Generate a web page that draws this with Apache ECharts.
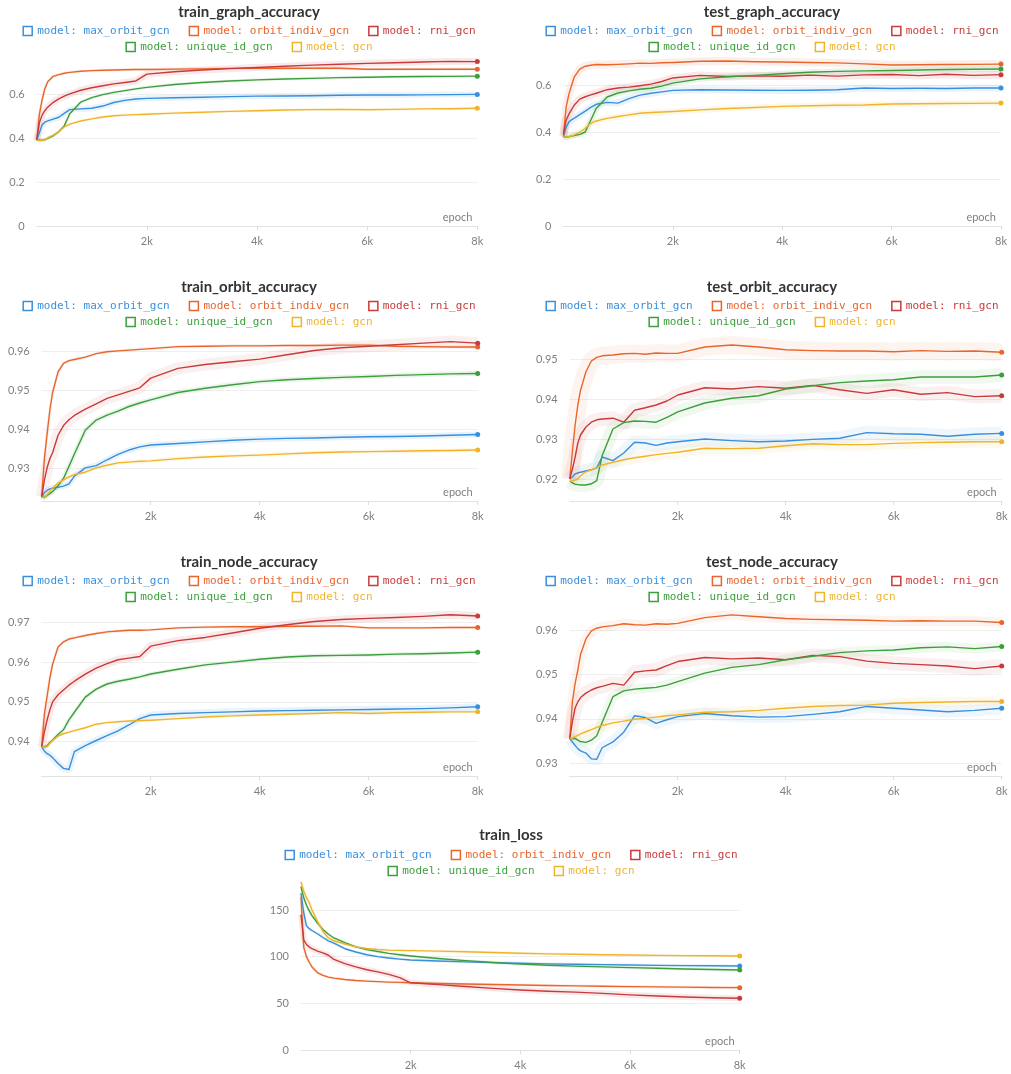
<!DOCTYPE html>
<html><head><meta charset="utf-8">
<script src="https://cdn.jsdelivr.net/npm/echarts@6/dist/echarts.min.js"></script>
<style>
html,body{margin:0;padding:0;background:#fff;overflow:hidden;width:1011px;height:1074px;position:relative}
.p{position:absolute}
</style></head><body>
<div id="c0" class="p" style="left:0;top:0;width:498px;height:275px"></div>
<div id="c1" class="p" style="left:533px;top:0;width:478px;height:275px"></div>
<div id="c2" class="p" style="left:0;top:275px;width:498px;height:275px"></div>
<div id="c3" class="p" style="left:533px;top:275px;width:478px;height:275px"></div>
<div id="c4" class="p" style="left:0;top:550px;width:498px;height:275px"></div>
<div id="c5" class="p" style="left:533px;top:550px;width:478px;height:275px"></div>
<div id="c6" class="p" style="left:262px;top:825px;width:498px;height:249px"></div>
<script>
// ---------------- DATA ----------------
const epochs = [0,50,100,150,200,300,400,500,600,800,1000,1200,1400,1600,1800,2000,2500,3000,3500,4000,4500,5000,5500,6000,6500,7000,7500,8000];
const modelNames = ['model: max_orbit_gcn','model: orbit_indiv_gcn','model: rni_gcn','model: unique_id_gcn','model: gcn'];
const xTickLabels = ['', '2k', '4k', '6k', '8k'];

// train_graph_accuracy
const tgaMaxOrbit   = [0.39,0.425,0.46,0.472,0.478,0.486,0.494,0.512,0.529,0.532,0.535,0.545,0.561,0.571,0.577,0.58,0.583,0.585,0.588,0.59,0.591,0.592,0.594,0.595,0.595,0.596,0.597,0.598];
const tgaOrbitIndiv = [0.39,0.51,0.575,0.625,0.655,0.68,0.688,0.694,0.698,0.703,0.706,0.708,0.709,0.71,0.711,0.711,0.713,0.714,0.716,0.717,0.717,0.717,0.717,0.712,0.712,0.712,0.712,0.712];
const tgaRni        = [0.39,0.47,0.505,0.525,0.54,0.562,0.578,0.59,0.6,0.617,0.628,0.637,0.646,0.652,0.659,0.69,0.701,0.709,0.715,0.72,0.726,0.731,0.735,0.739,0.742,0.745,0.748,0.747];
const tgaUniqueId   = [0.39,0.39,0.39,0.392,0.398,0.41,0.428,0.455,0.51,0.563,0.583,0.597,0.607,0.615,0.623,0.63,0.643,0.652,0.659,0.664,0.668,0.671,0.674,0.676,0.678,0.679,0.68,0.681];
const tgaGcn        = [0.39,0.388,0.388,0.392,0.4,0.413,0.428,0.45,0.463,0.477,0.487,0.495,0.501,0.504,0.506,0.508,0.513,0.517,0.521,0.524,0.527,0.529,0.53,0.528,0.53,0.532,0.533,0.535];

// test_graph_accuracy
const tegMaxOrbit   = [0.38,0.42,0.442,0.452,0.459,0.474,0.489,0.505,0.518,0.526,0.523,0.542,0.557,0.565,0.571,0.577,0.58,0.579,0.578,0.577,0.578,0.58,0.587,0.585,0.586,0.585,0.587,0.587];
const tegOrbitIndiv = [0.38,0.505,0.56,0.598,0.635,0.668,0.68,0.684,0.687,0.686,0.688,0.69,0.693,0.692,0.695,0.696,0.701,0.702,0.699,0.698,0.696,0.694,0.69,0.685,0.686,0.687,0.688,0.689];
const tegRni        = [0.39,0.45,0.475,0.495,0.515,0.54,0.55,0.558,0.565,0.58,0.587,0.591,0.597,0.604,0.615,0.63,0.641,0.636,0.639,0.637,0.642,0.638,0.643,0.645,0.64,0.646,0.641,0.644];
const tegUniqueId   = [0.38,0.378,0.38,0.383,0.385,0.39,0.4,0.45,0.5,0.549,0.566,0.575,0.582,0.586,0.595,0.608,0.626,0.635,0.641,0.648,0.654,0.658,0.66,0.662,0.664,0.666,0.667,0.668];
const tegGcn        = [0.38,0.378,0.38,0.384,0.388,0.4,0.415,0.437,0.447,0.458,0.466,0.473,0.48,0.483,0.485,0.487,0.494,0.5,0.504,0.509,0.512,0.514,0.515,0.519,0.52,0.521,0.522,0.523];

// train_orbit_accuracy
const troMaxOrbit   = [0.9225,0.9238,0.9243,0.9247,0.9249,0.9251,0.9254,0.926,0.928,0.9301,0.9307,0.9322,0.9336,0.9347,0.9355,0.936,0.9364,0.9368,0.9372,0.9375,0.9377,0.9378,0.938,0.9381,0.9382,0.9383,0.9385,0.9387];
const troOrbitIndiv = [0.9227,0.9325,0.939,0.945,0.9495,0.9548,0.957,0.9577,0.958,0.9586,0.9595,0.96,0.9602,0.9604,0.9606,0.9608,0.9613,0.9614,0.9615,0.9615,0.9616,0.9616,0.9617,0.9617,0.9614,0.9613,0.9612,0.9612];
const troRni        = [0.9227,0.927,0.9302,0.9325,0.934,0.9385,0.941,0.9425,0.9436,0.9452,0.9466,0.948,0.9489,0.9498,0.9507,0.9532,0.9557,0.9567,0.9574,0.9581,0.9592,0.9603,0.961,0.9614,0.9618,0.9622,0.9626,0.9622];
const troUniqueId   = [0.9227,0.9225,0.923,0.9235,0.924,0.9255,0.9274,0.9305,0.9337,0.9398,0.9424,0.9437,0.9447,0.9459,0.9468,0.9476,0.9495,0.9506,0.9515,0.9523,0.9528,0.9531,0.9534,0.9536,0.9539,0.9541,0.9543,0.9544];
const troGcn        = [0.9225,0.9226,0.9232,0.924,0.9249,0.9262,0.927,0.9278,0.9284,0.929,0.9301,0.9308,0.9314,0.9316,0.9318,0.9319,0.9325,0.9329,0.9332,0.9334,0.9337,0.934,0.9342,0.9343,0.9344,0.9345,0.9346,0.9347];

// test_orbit_accuracy
const teoMaxOrbit   = [0.92,0.9205,0.9213,0.9215,0.9217,0.922,0.9223,0.9228,0.9255,0.9246,0.9265,0.9292,0.929,0.9284,0.929,0.9293,0.93,0.9296,0.9293,0.9295,0.9299,0.9302,0.9316,0.9313,0.9312,0.9307,0.9312,0.9314];
const teoOrbitIndiv = [0.92,0.927,0.9335,0.9385,0.9422,0.9468,0.9495,0.9504,0.9508,0.951,0.9513,0.9514,0.9512,0.9515,0.9514,0.9514,0.953,0.9535,0.953,0.9523,0.9521,0.952,0.952,0.9518,0.9521,0.9519,0.952,0.9517];
const teoRni        = [0.92,0.9225,0.9255,0.929,0.931,0.933,0.9342,0.9348,0.935,0.9352,0.9342,0.9372,0.9378,0.9385,0.9395,0.941,0.9428,0.9425,0.9431,0.9427,0.9434,0.9423,0.9414,0.9423,0.9412,0.9416,0.9406,0.9408];
const teoUniqueId   = [0.9195,0.919,0.9187,0.9186,0.9185,0.9185,0.9188,0.9196,0.9258,0.9325,0.9341,0.9345,0.9344,0.9342,0.9354,0.9368,0.939,0.9402,0.9408,0.9425,0.9433,0.9441,0.9445,0.9448,0.9455,0.9455,0.9455,0.946];
const teoGcn        = [0.9195,0.9195,0.9197,0.92,0.9208,0.9218,0.9223,0.9228,0.9235,0.9242,0.9248,0.9253,0.9257,0.9261,0.9264,0.9267,0.9277,0.9276,0.9277,0.9283,0.9288,0.9286,0.9286,0.9289,0.9291,0.9292,0.9293,0.9293];

// train_node_accuracy
const trnMaxOrbit   = [0.9387,0.9376,0.937,0.9366,0.936,0.9345,0.9333,0.933,0.9375,0.939,0.9403,0.9415,0.9427,0.9442,0.9458,0.9467,0.9471,0.9473,0.9475,0.9477,0.9478,0.9479,0.948,0.9481,0.9482,0.9483,0.9485,0.9488];
const trnOrbitIndiv = [0.9387,0.947,0.9515,0.956,0.9595,0.9638,0.9651,0.9658,0.9661,0.9667,0.9672,0.9676,0.9678,0.968,0.968,0.9681,0.9686,0.9688,0.9689,0.9689,0.969,0.969,0.9691,0.9686,0.9686,0.9686,0.9687,0.9687];
const trnRni        = [0.9387,0.9425,0.9455,0.948,0.95,0.9518,0.953,0.9542,0.9552,0.957,0.9585,0.9596,0.9606,0.961,0.9614,0.964,0.9654,0.9662,0.9673,0.9685,0.9694,0.9702,0.9707,0.971,0.9712,0.9715,0.9719,0.9716];
const trnUniqueId   = [0.9387,0.9387,0.939,0.9398,0.9404,0.9418,0.943,0.9455,0.9474,0.9512,0.9532,0.9545,0.9552,0.9557,0.9563,0.957,0.9582,0.9593,0.96,0.9607,0.9613,0.9616,0.9617,0.9618,0.962,0.9621,0.9623,0.9625];
const trnGcn        = [0.9387,0.9386,0.9388,0.9396,0.9403,0.9414,0.942,0.9424,0.9428,0.9435,0.9444,0.9448,0.945,0.9452,0.9453,0.9454,0.9458,0.9462,0.9465,0.9467,0.9469,0.9471,0.9473,0.9471,0.9473,0.9474,0.9475,0.9475];

// test_node_accuracy
const tenMaxOrbit   = [0.9355,0.9348,0.934,0.9333,0.9328,0.9323,0.931,0.9309,0.9335,0.9348,0.937,0.9407,0.9403,0.939,0.9398,0.9405,0.9412,0.9407,0.9404,0.9405,0.941,0.9416,0.9428,0.9424,0.942,0.9416,0.9419,0.9424];
const tenOrbitIndiv = [0.9355,0.944,0.948,0.951,0.9545,0.958,0.9598,0.9604,0.9607,0.961,0.9614,0.9612,0.9611,0.9614,0.9613,0.9615,0.9628,0.9634,0.963,0.9626,0.9624,0.9623,0.9622,0.962,0.9621,0.962,0.962,0.9617];
const tenRni        = [0.9355,0.9395,0.9425,0.9438,0.9448,0.9458,0.9465,0.947,0.9473,0.948,0.9476,0.9505,0.9508,0.951,0.952,0.9529,0.9538,0.9535,0.9537,0.9533,0.9543,0.954,0.953,0.9525,0.9522,0.9519,0.9513,0.9519];
const tenUniqueId   = [0.9355,0.9355,0.9356,0.9352,0.9349,0.9347,0.9352,0.9362,0.9392,0.945,0.9463,0.9467,0.9469,0.9471,0.9476,0.9484,0.9503,0.9516,0.9522,0.9533,0.9541,0.9549,0.9553,0.9555,0.956,0.9562,0.9558,0.9563];
const tenGcn        = [0.9355,0.9357,0.936,0.9363,0.9366,0.9371,0.9376,0.9381,0.9385,0.9391,0.9395,0.9399,0.9401,0.9404,0.9407,0.9409,0.9415,0.9416,0.9419,0.9424,0.9428,0.943,0.9431,0.9435,0.9437,0.9438,0.9439,0.9439];

// train_loss
const tlMaxOrbit   = [168,147,133,130,128,124.5,120.5,117,114.5,108.5,105,102,100,98.6,97.4,96.4,95.4,94.4,93.6,92.9,92.3,91.8,91.4,91,90.7,90.4,90.2,90];
const tlOrbitIndiv = [164,110,100,94,89,83,80,78,77,75.5,74.5,73.8,73.2,72.7,72.4,72.1,71.3,70.7,70.1,69.6,69.1,68.7,68.3,67.9,67.6,67.3,67,66.8];
const tlRni        = [145,118,113,110.5,108.5,106,104,101.5,97,92.5,89,86,83.7,81,77.5,72,70,68,66,64.3,63,62,60.7,59,57.8,56.8,56,55.4];
const tlUniqueId   = [175,163,155,149,144,136,129,124,120,115,110.5,107.5,105.5,103.5,102,100.7,98,95.7,93.8,92,90.8,89.8,89,88.2,87.5,86.8,86.2,85.7];
const tlGcn        = [180,170,163,158,150,138,127,120,117,113.5,110.5,108.7,107.7,107,106.7,106.4,105.9,105.3,104.5,103.6,103,102.5,102.1,101.8,101.4,101.1,100.9,100.7];

// ---------------- STYLE / LAYOUT ----------------
const colors = ['#3a8fdc','#e8652c','#c93a3a','#3c9f3c','#f0b42a'];
const panels = [
  {id:'c0', title:'train_graph_accuracy', data:[tgaMaxOrbit,tgaOrbitIndiv,tgaRni,tgaUniqueId,tgaGcn], yMin:0, yMax:0.777, yInt:0.2, showMin:true, grid:{left:36.7,right:20.7,top:55,bottom:49}, bands:[6,3,7,3,3]},
  {id:'c1', title:'test_graph_accuracy', data:[tegMaxOrbit,tegOrbitIndiv,tegRni,tegUniqueId,tegGcn], yMin:0, yMax:0.7277, yInt:0.2, showMin:true, grid:{left:27.3,right:10,top:55,bottom:49}, bands:[7,8,8,6,6]},
  {id:'c2', title:'train_orbit_accuracy', data:[troMaxOrbit,troOrbitIndiv,troRni,troUniqueId,troGcn], yMin:0.92159, yMax:0.96558, yInt:0.01, showMin:false, grid:{left:41.7,right:20.3,top:55,bottom:49}, bands:[6,3,12,5,4]},
  {id:'c3', title:'test_orbit_accuracy', data:[teoMaxOrbit,teoOrbitIndiv,teoRni,teoUniqueId,teoGcn], yMin:0.9145, yMax:0.95725, yInt:0.01, showMin:false, grid:{left:32.3,right:9.3,top:55,bottom:49}, bands:[14,18,14,14,12]},
  {id:'c4', title:'train_node_accuracy', data:[trnMaxOrbit,trnOrbitIndiv,trnRni,trnUniqueId,trnGcn], yMin:0.93138, yMax:0.97435, yInt:0.01, showMin:false, grid:{left:41.7,right:20.3,top:55,bottom:49}, bands:[7,3,8,4,3]},
  {id:'c5', title:'test_node_accuracy', data:[tenMaxOrbit,tenOrbitIndiv,tenRni,tenUniqueId,tenGcn], yMin:0.92714, yMax:0.96563, yInt:0.01, showMin:false, grid:{left:32.3,right:9.3,top:55,bottom:49}, bands:[12,10,14,10,10]},
  {id:'c6', title:'train_loss', data:[tlMaxOrbit,tlOrbitIndiv,tlRni,tlUniqueId,tlGcn], yMin:0, yMax:182.1, yInt:50, showMin:true, grid:{left:39,right:20.3,top:55,bottom:24}, bands:[3,3,6,3,3], titleTop:3, legTop:[24.5,40.5]}
];

const labelFont = 'Lato, "Noto Sans", sans-serif';
const monoFont = '"DejaVu Sans Mono", monospace';
const n = epochs.length;

function legendItems(idxs){
  return idxs.map(i => ({
    name: modelNames[i], icon: 'rect',
    itemStyle: {color:'#ffffff', borderColor: colors[i], borderWidth: 1.5},
    textStyle: {color: colors[i]}
  }));
}

panels.forEach(p => {
  const chart = echarts.init(document.getElementById(p.id), null, {renderer:'canvas'});
  const legTop = p.legTop || [25.5, 41.5];
  const legBase = {left:'center', padding:0, itemGap:19, itemWidth:9, itemHeight:9, selectedMode:false,
    textStyle:{fontFamily: monoFont, fontSize:11}};
  const series = [];
  p.data.forEach((arr, i) => {
    const pts = epochs.map((e, k) => [e, arr[k]]);
    const w = p.bands[i];
    series.push({
      type:'line', name:'band'+i, data: pts, silent:true, symbol:'none', z:1,
      lineStyle:{width:w, color:colors[i], opacity: w > 9 ? 0.075 : 0.11, join:'round', cap:'butt'},
      emphasis:{disabled:true}
    });
  });
  p.data.forEach((arr, i) => {
    const pts = epochs.map((e, k) => [e, arr[k]]);
    series.push({
      type:'line', name: modelNames[i], data: pts, z: 3,
      symbol:'circle', showSymbol:true,
      symbolSize: (v, prm) => prm.dataIndex === n - 1 ? 5 : 0,
      itemStyle:{color: colors[i]},
      lineStyle:{width:1.4, color: colors[i], join:'round'},
      emphasis:{disabled:true}
    });
  });
  const yAxis = {
    type:'value', min:p.yMin, max:p.yMax,
    axisLine:{show:false}, axisTick:{show:false},
    splitLine:{show:true, showMinLine:false, showMaxLine:false, lineStyle:{color:'#efefef', width:1}},
    axisLabel:{color:'#808080', fontSize:11, fontFamily: labelFont, margin:12, showMaxLabel:false, showMinLabel:p.showMin}
  };
  if (p.yMin === 0) { yAxis.interval = p.yInt; }
  else { yAxis.minInterval = p.yInt; yAxis.maxInterval = p.yInt; }
  chart.setOption({
    animation:false,
    title:{text:p.title, left:'center', top: p.titleTop !== undefined ? p.titleTop : 5, padding:0,
      textStyle:{fontFamily:labelFont, fontWeight:'bold', fontSize:15, color:'#333333'}},
    legend:[
      Object.assign({}, legBase, {top:legTop[0], data: legendItems([0,1,2])}),
      Object.assign({}, legBase, {top:legTop[1], data: legendItems([3,4])})
    ],
    grid: Object.assign({containLabel:false}, p.grid),
    xAxis:{
      type:'value', min:0, max:8000, interval:2000,
      axisLine:{show:true, onZero:false, lineStyle:{color:'#e2e2e2', width:1}},
      axisTick:{show:true, length:4, lineStyle:{color:'#dddddd'}},
      splitLine:{show:false},
      axisLabel:{color:'#808080', fontSize:11, fontFamily:labelFont, margin:10, showMinLabel:false,
        formatter: v => xTickLabels[Math.round(v / 2000)]},
      name:'epoch', nameLocation:'end', nameGap:-5,
      nameTextStyle:{align:'right', verticalAlign:'bottom', padding:[0,0,3,0], color:'#808080', fontSize:11, fontFamily:labelFont}
    },
    yAxis: yAxis,
    series: series
  });
});
</script>
</body></html>
